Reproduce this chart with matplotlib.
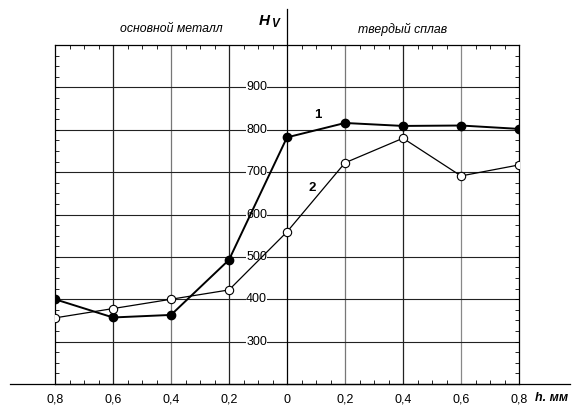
import matplotlib
matplotlib.use("Agg")
import matplotlib.pyplot as plt
from matplotlib.ticker import FixedLocator, MultipleLocator
import numpy as np

plt.rcParams['font.family'] = ['Liberation Sans', 'DejaVu Sans']

# data
x_pos = [-0.8, -0.6, -0.4, -0.2, 0.0, 0.2, 0.4, 0.6, 0.8]
x_labels = ['0,8', '0,6', '0,4', '0,2', '0', '0,2', '0,4', '0,6', '0,8']
hv_1 = [400, 357, 363, 493, 782, 816, 809, 810, 802]
hv_2 = [356, 378, 400, 422, 559, 722, 780, 691, 717]
y_ticks = [300, 400, 500, 600, 700, 800, 900]

fig = plt.figure(figsize=(5.72, 4.05), dpi=100)
ax = fig.add_axes([55/572, 21/405, (519-55)/572, (384-45)/405])
ax.set_xlim(-0.8, 0.8)
ax.set_ylim(200, 1000)

for s in ax.spines.values():
    s.set_linewidth(0.9)
    s.set_color('black')

# grid
vcolors = {-0.6: '#222222', -0.4: '#777777', -0.2: '#222222', 0.2: '#777777', 0.4: '#222222', 0.6: '#888888'}
for xv, c in vcolors.items():
    ax.axvline(xv, color=c, lw=0.9, zorder=1)
for yv in y_ticks:
    ax.axhline(yv, color='#222222', lw=0.8, zorder=1)

# central y axis
ax.plot([0, 0], [200, 1085], color='black', lw=0.9, clip_on=False, zorder=2)
# extended bottom axis
ax.plot([-0.955, 0.976], [200, 200], color='black', lw=0.9, clip_on=False, zorder=2)

# ticks
ax.set_xticks(x_pos)
ax.set_xticklabels(x_labels, fontsize=9)
ax.xaxis.set_minor_locator(FixedLocator(np.arange(-0.8, 0.801, 0.05)))
ax.yaxis.set_minor_locator(MultipleLocator(25))
ax.set_yticks([])
ax.tick_params(axis='x', which='major', length=0, pad=7)
ax.tick_params(axis='x', which='minor', direction='in', length=3, width=0.6, top=True, bottom=True)
ax.tick_params(axis='y', which='minor', direction='in', length=3, width=0.6, left=True, right=True)

# y tick labels on central axis
for yv in y_ticks:
    ax.text(-0.105, yv, str(yv), ha='center', va='center', fontsize=9,
            bbox=dict(facecolor='white', edgecolor='none', pad=0.3), zorder=3)

# series
ax.plot(x_pos, hv_1, color='black', lw=1.4, marker='o', ms=6,
        mfc='black', mec='black', zorder=5)
ax.plot(x_pos, hv_2, color='black', lw=0.9, marker='o', ms=6,
        mfc='white', mec='black', mew=0.8, zorder=5)

ax.text(0.107, 835, '1', fontsize=9.5, fontweight='bold', ha='center', va='center', zorder=6)
ax.text(0.086, 662, '2', fontsize=9.5, fontweight='bold', ha='center', va='center', zorder=6)

# annotations
ax.text(-0.4, 1037, 'основной металл', fontsize=8.8, style='italic', ha='center', va='center')
ax.text(0.4, 1037, 'твердый сплав', fontsize=8.8, style='italic', ha='center', va='center')
ax.text(-0.058, 1057, 'H', fontsize=11, fontweight='bold',
        style='italic', ha='right', va='center', clip_on=False)
ax.text(-0.056, 1050, 'V', fontsize=8.5, fontweight='bold', style='italic',
        ha='left', va='center', clip_on=False)
ax.annotate('h. мм', xy=(0.855, 200), xytext=(0, -14), textcoords='offset pixels',
            fontsize=9, fontweight='bold', style='italic',
            ha='left', va='center', annotation_clip=False)

fig.savefig('out.png', dpi=100)
